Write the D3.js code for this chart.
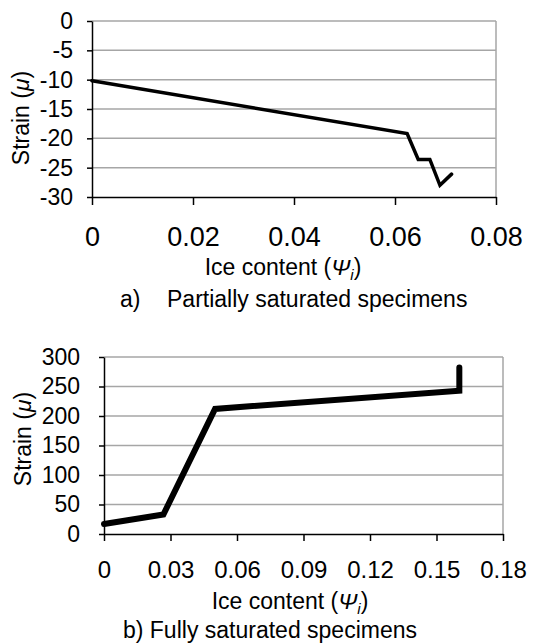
<!DOCTYPE html>
<html>
<head>
<meta charset="utf-8">
<script src="https://cdn.jsdelivr.net/npm/d3@7"></script>
<style>
  body { margin: 0; background: #fff; }
  svg { display: block; }
  text { font-family: "Liberation Sans", Arial, sans-serif; fill: #000; }
</style>
</head>
<body>
<div id="chart"></div>
<script>
// a) partially saturated
const iceA = [0, 0.0624, 0.0646, 0.0669, 0.0689, 0.0712]
const strainA = [-10.2, -19.2, -23.6, -23.6, -28.0, -26.1]
const xTicksA = [0, 0.02, 0.04, 0.06, 0.08]
const yTicksA = [0, -5, -10, -15, -20, -25, -30]

// b) fully saturated
const iceB = [0, 0.0268, 0.0501, 0.1603, 0.1603]
const strainB = [17, 33, 212, 243, 282]
const xTicksB = [0, 0.03, 0.06, 0.09, 0.12, 0.15, 0.18]
const yTicksB = [0, 50, 100, 150, 200, 250, 300]

let svg = d3.select('#chart')
  .append('svg')
  .attr('width', 541)
  .attr('height', 644)

function drawPanel(cfg) {
  let g = svg.append('g')
  let x = d3.scaleLinear().domain(cfg.xDomain).range([cfg.left, cfg.right])
  let y = d3.scaleLinear().domain(cfg.yDomain).range([cfg.bottom, cfg.top])

  // gridlines
  g.selectAll('.grid')
    .data(cfg.yTicks.filter(d => d !== cfg.yDomain[0]))
    .enter()
    .append('line')
    .attr('x1', cfg.left)
    .attr('x2', cfg.right)
    .attr('y1', d => y(d))
    .attr('y2', d => y(d))
    .attr('stroke', '#a6a6a6')
    .attr('stroke-width', 1.5)

  // right border
  g.append('line')
    .attr('x1', cfg.right).attr('x2', cfg.right)
    .attr('y1', cfg.top).attr('y2', cfg.bottom)
    .attr('stroke', '#a6a6a6')
    .attr('stroke-width', 1.5)

  let yAxis = g.append('g')
    .attr('transform', `translate(${cfg.left},0)`)
    .call(d3.axisLeft(y).tickValues(cfg.yTicks).tickSize(5).tickPadding(cfg.yPad).tickSizeOuter(0)
      .tickFormat(d => String(d)))
  yAxis.selectAll('text').style('font-size', cfg.yFont + 'px')

  let xAxis = g.append('g')
    .attr('transform', `translate(0,${cfg.bottom})`)
    .call(d3.axisBottom(x).tickValues(cfg.xTicks).tickSize(cfg.xTick).tickPadding(cfg.xPad).tickSizeOuter(0)
      .tickFormat(d => d === 0 ? '0' : d3.format('.2f')(d)))
  xAxis.selectAll('text').style('font-size', cfg.xFont + 'px')

  g.selectAll('.domain').attr('stroke', '#000').attr('stroke-width', 1.5)
  g.selectAll('.tick line').attr('stroke', '#000').attr('stroke-width', 1.5)

  let line = d3.line()
    .x((d, i) => x(cfg.xs[i]))
    .y(d => y(d))
  g.append('path')
    .datum(cfg.ys)
    .attr('d', line)
    .attr('fill', 'none')
    .attr('stroke', '#000')
    .attr('stroke-width', cfg.lw)
    .attr('stroke-linejoin', 'miter')
    .attr('stroke-linecap', 'round')

  // y title
  let yt = g.append('text')
    .attr('transform', `translate(${cfg.yTitleX},${cfg.yTitleY}) rotate(-90)`)
    .attr('text-anchor', 'middle')
    .attr('dy', '0.35em')
    .style('font-size', '23px')
  yt.append('tspan').text('Strain (')
  yt.append('tspan').style('font-style', 'italic').text('μ')
  yt.append('tspan').text(')')

  // x title
  let xt = g.append('text')
    .attr('x', cfg.xTitleX)
    .attr('y', cfg.xTitleY)
    .attr('text-anchor', 'middle')
    .style('font-size', '23px')
  xt.append('tspan').text('Ice content (')
  xt.append('tspan').style('font-style', 'italic').text('Ψ')
  xt.append('tspan').style('font-style', 'italic').style('font-size', '15px').attr('dy', 5).text('i')
  xt.append('tspan').attr('dy', -5).text(')')
}

drawPanel({
  xs: iceA, ys: strainA, xTicks: xTicksA, yTicks: yTicksA,
  xDomain: [0, 0.08], yDomain: [-30, 0],
  left: 92, right: 496, top: 21, bottom: 197,
  yPad: 14, yFont: 23, xTick: 8, xPad: 22, xFont: 27, lw: 3.5,
  yTitleX: 21, yTitleY: 118, xTitleX: 283, xTitleY: 275
})

drawPanel({
  xs: iceB, ys: strainB, xTicks: xTicksB, yTicks: yTicksB,
  xDomain: [0, 0.18], yDomain: [0, 300],
  left: 104, right: 503, top: 357, bottom: 534,
  yPad: 19, yFont: 23, xTick: 7, xPad: 20, xFont: 24, lw: 6,
  yTitleX: 23, yTitleY: 439, xTitleX: 290, xTitleY: 609
})

svg.append('text')
  .attr('x', 120).attr('y', 307)
  .style('font-size', '23px')
  .text('a)')
svg.append('text')
  .attr('x', 167).attr('y', 307)
  .style('font-size', '23px')
  .text('Partially saturated specimens')

svg.append('text')
  .attr('x', 270).attr('y', 638)
  .attr('text-anchor', 'middle')
  .style('font-size', '23px')
  .text('b) Fully saturated specimens')
</script>
</body>
</html>
